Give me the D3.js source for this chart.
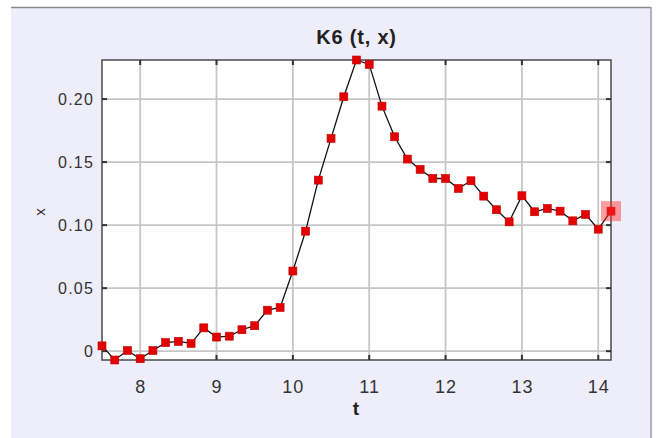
<!DOCTYPE html>
<html>
<head>
<meta charset="utf-8">
<script src="https://cdn.jsdelivr.net/npm/d3@7"></script>
<style>
  html, body { margin: 0; padding: 0; background: #ffffff; }
  svg { display: block; }
  text { font-family: "Liberation Sans", Arial, sans-serif; }
</style>
</head>
<body>
<svg id="chart" width="658" height="438"></svg>
<script>
// K6 trajectory: time t against value x
const tValues = [7.5, 7.667, 7.833, 8.0, 8.167, 8.333, 8.5, 8.667, 8.833, 9.0,
  9.167, 9.333, 9.5, 9.667, 9.833, 10.0, 10.167, 10.333, 10.5, 10.667,
  10.833, 11.0, 11.167, 11.333, 11.5, 11.667, 11.833, 12.0, 12.167, 12.333,
  12.5, 12.667, 12.833, 13.0, 13.167, 13.333, 13.5, 13.667, 13.833, 14.0, 14.167];
const xValues = [0.0042, -0.0070, 0.0005, -0.0060, 0.0005, 0.0068, 0.0078, 0.0062, 0.0185, 0.0112,
  0.0119, 0.0170, 0.0202, 0.0325, 0.0347, 0.0636, 0.0952, 0.1357, 0.1688, 0.2018,
  0.2310, 0.2275, 0.1944, 0.1701, 0.1524, 0.1442, 0.1370, 0.1370, 0.1291, 0.1352,
  0.1230, 0.1122, 0.1026, 0.1233, 0.1106, 0.1132, 0.1111, 0.1034, 0.1085, 0.0968, 0.1111];
const xTicks = [8, 9, 10, 11, 12, 13, 14];
const yTicks = [0, 0.05, 0.10, 0.15, 0.20];
const yTickLabels = ["0", "0.05", "0.10", "0.15", "0.20"];
const titleText = "K6 (t, x)";
const xAxisTitle = "t";
const yAxisTitle = "x";
const selectedIndex = xValues.length - 1;

const data = tValues.map((t, i) => ({ t, x: xValues[i] }));

const svg = d3.select("#chart");
const plot = { left: 102, top: 60, right: 611, bottom: 360 };

// panel background
svg.append("rect").attr("x", 11).attr("y", 7).attr("width", 640).attr("height", 431)
  .attr("fill", "#eeeefa");
svg.append("line").attr("x1", 11).attr("x2", 651).attr("y1", 7.5).attr("y2", 7.5)
  .attr("stroke", "#8a8a8a").attr("stroke-width", 1.5);
svg.append("line").attr("x1", 651).attr("x2", 651).attr("y1", 7).attr("y2", 438)
  .attr("stroke", "#9a9aa6").attr("stroke-width", 1.5);

const xScale = d3.scaleLinear().domain(d3.extent(tValues)).range([plot.left, plot.right]);
const yScale = d3.scaleLinear().domain(d3.extent(xValues)).range([plot.bottom, plot.top]);

// plotting area
svg.append("rect").attr("x", plot.left).attr("y", plot.top)
  .attr("width", plot.right - plot.left).attr("height", plot.bottom - plot.top)
  .attr("fill", "#ffffff");

// grid
const grid = svg.append("g").attr("stroke", "#c6c6c6").attr("stroke-width", 1.8);
grid.selectAll("line.gx").data(xTicks).join("line")
  .attr("x1", d => xScale(d)).attr("x2", d => xScale(d))
  .attr("y1", plot.top).attr("y2", plot.bottom);
grid.selectAll("line.gy").data(yTicks).join("line")
  .attr("y1", d => yScale(d)).attr("y2", d => yScale(d))
  .attr("x1", plot.left).attr("x2", plot.right);

// frame
svg.append("rect").attr("x", plot.left).attr("y", plot.top)
  .attr("width", plot.right - plot.left).attr("height", plot.bottom - plot.top)
  .attr("fill", "none").attr("stroke", "#4a4a4a").attr("stroke-width", 1.5);

// inward tick marks on all four sides
const tk = svg.append("g").attr("stroke", "#333").attr("stroke-width", 2);
xTicks.forEach(v => {
  const x = xScale(v);
  tk.append("line").attr("x1", x).attr("x2", x).attr("y1", plot.bottom).attr("y2", plot.bottom - 5);
  tk.append("line").attr("x1", x).attr("x2", x).attr("y1", plot.top).attr("y2", plot.top + 5);
});
yTicks.forEach(v => {
  const y = yScale(v);
  tk.append("line").attr("x1", plot.left).attr("x2", plot.left + 5).attr("y1", y).attr("y2", y);
  tk.append("line").attr("x1", plot.right).attr("x2", plot.right - 5).attr("y1", y).attr("y2", y);
});

// tick labels through d3 axes
const xAxis = d3.axisBottom(xScale).tickValues(xTicks).tickSize(0).tickPadding(0)
  .tickFormat(d3.format("d"));
const gx = svg.append("g").attr("transform", `translate(0,${plot.bottom})`).call(xAxis);
gx.select(".domain").remove();
gx.selectAll("text").attr("font-size", 18).attr("fill", "#333")
  .attr("font-family", "Liberation Sans, Arial, sans-serif")
  .attr("dy", null).attr("y", 33).attr("letter-spacing", 1);

const yAxis = d3.axisLeft(yScale).tickValues(yTicks).tickSize(0).tickPadding(0)
  .tickFormat((d, i) => yTickLabels[i]);
const gy = svg.append("g").attr("transform", `translate(${plot.left},0)`).call(yAxis);
gy.select(".domain").remove();
gy.selectAll("text").attr("font-size", 16).attr("fill", "#333")
  .attr("font-family", "Liberation Sans, Arial, sans-serif")
  .attr("x", -8).attr("dy", "0.36em").attr("letter-spacing", 1.2);

// title and axis titles
svg.append("text").attr("x", (plot.left + plot.right) / 2).attr("y", 44)
  .attr("text-anchor", "middle").attr("font-size", 20).attr("font-weight", "bold")
  .attr("letter-spacing", 0.8).attr("fill", "#222").text(titleText);
svg.append("text").attr("x", 356).attr("y", 415)
  .attr("text-anchor", "middle").attr("font-size", 19).attr("font-weight", "bold")
  .attr("fill", "#222").text(xAxisTitle);
svg.append("text").attr("transform", "translate(45,212) rotate(-90)")
  .attr("text-anchor", "middle").attr("font-size", 15)
  .attr("fill", "#333").text(yAxisTitle);

// series line
const line = d3.line().x(d => xScale(d.t)).y(d => yScale(d.x));
svg.append("path").datum(data).attr("d", line)
  .attr("fill", "none").attr("stroke", "#111").attr("stroke-width", 1.3);

// markers
const ms = 8;
svg.append("g").selectAll("rect").data(data).join("rect")
  .attr("x", d => xScale(d.t) - ms / 2).attr("y", d => yScale(d.x) - ms / 2)
  .attr("width", ms).attr("height", ms)
  .attr("fill", "#e30000").attr("stroke", "#c00000").attr("stroke-width", 0.6);

// highlighted (selected) point
const sel = data[selectedIndex];
svg.append("rect")
  .attr("x", xScale(sel.t) - 10).attr("y", yScale(sel.x) - 10)
  .attr("width", 20).attr("height", 20)
  .attr("fill", "#ff2a2a").attr("fill-opacity", 0.45);
</script>
</body>
</html>
